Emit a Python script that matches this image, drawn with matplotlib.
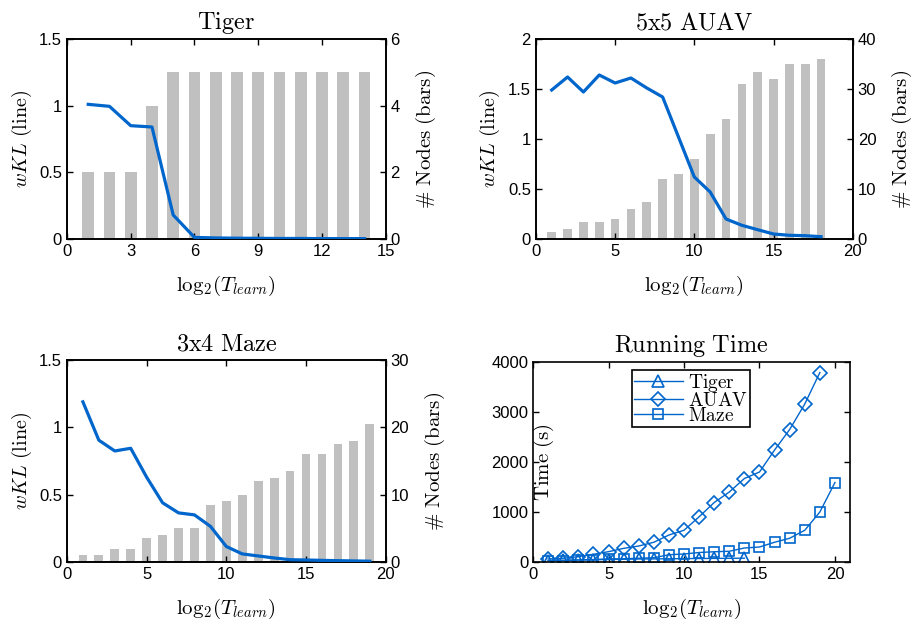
import numpy as np
import matplotlib
matplotlib.use("Agg")
import matplotlib.pyplot as plt

plt.rcParams['font.family'] = ['Liberation Sans', 'DejaVu Sans']
plt.rcParams['mathtext.fontset'] = 'cm'

# wKL (line) and # nodes (bars) per log2(T_learn)
tiger_x = [1, 2, 3, 4, 5, 6, 7, 8, 9, 10, 11, 12, 13, 14]
tiger_kl = [1.01, 0.995, 0.85, 0.84, 0.18, 0.012, 0.008, 0.006, 0.005, 0.004, 0.004, 0.003, 0.003, 0.003]
tiger_nodes = [2, 2, 2, 4, 5, 5, 5, 5, 5, 5, 5, 5, 5, 5]

auav_x = list(range(1, 19))
auav_kl = [1.49, 1.62, 1.47, 1.64, 1.56, 1.61, 1.51, 1.42, 1.02, 0.62, 0.47, 0.2,
           0.137, 0.093, 0.05, 0.037, 0.033, 0.023]
auav_nodes = [1.5, 2, 3.5, 3.5, 4, 6, 7.5, 12, 13, 16, 21, 24, 31, 33.5, 32, 35, 35, 36]

maze_x = list(range(1, 20))
maze_kl = [1.19, 0.905, 0.825, 0.845, 0.63, 0.44, 0.365, 0.35, 0.265, 0.115, 0.06, 0.045,
           0.03, 0.017, 0.015, 0.012, 0.01, 0.008, 0.006]
maze_nodes = [1, 1, 2, 2, 3.5, 4, 5, 5, 8.5, 9, 10, 12, 12.5, 13.5, 16, 16, 17.5, 18, 20.5]

# running time (s)
rt_tiger_x = list(range(1, 15))
rt_tiger = [30, 35, 40, 45, 50, 55, 60, 62, 65, 68, 70, 72, 74, 76]
rt_auav_x = list(range(1, 20))
rt_auav = [60, 75, 107, 155, 207, 273, 320, 395, 540, 635, 905, 1190, 1400, 1670, 1800,
           2240, 2650, 3160, 3790]
rt_maze_x = list(range(1, 21))
rt_maze = [27, 30, 40, 50, 60, 65, 75, 85, 145, 160, 190, 205, 215, 280, 300, 395, 475,
           635, 1000, 1590]

blue = '#0066CC'
grey = '#C0C0C0'
tick_fs = 12
lab_fs = 15
title_fs = 17.5
xlab = r'$\mathrm{log}_2(T_{learn})$'

fig = plt.figure(figsize=(9.16, 6.25), dpi=100)


def style(ax):
    ax.tick_params(direction='in', labelsize=tick_fs, length=4, width=1)
    for s in ax.spines.values():
        s.set_linewidth(1.2)


def kl_panel(rect, title, x, kl, nodes, xlim, xticks, ylim, yticks, ylabels, rlim, rticks):
    ax = fig.add_axes(rect)
    ax2 = ax.twinx()
    ax2.bar(x, nodes, width=0.55, color=grey, zorder=1)
    ax.plot(x, kl, color=blue, lw=2.3, zorder=3)
    ax.set_zorder(ax2.get_zorder() + 1)
    ax.patch.set_visible(False)
    ax.set_xlim(*xlim)
    ax.set_xticks(xticks)
    ax.set_ylim(*ylim)
    ax.set_yticks(yticks, ylabels)
    ax2.set_ylim(*rlim)
    ax2.set_yticks(rticks)
    ax.tick_params(top=True)
    style(ax)
    style(ax2)
    ax.set_title(r'$\mathrm{' + title + '}$', fontsize=title_fs, pad=7)
    ax.set_xlabel(xlab, fontsize=lab_fs, labelpad=11)
    ax.set_ylabel(r'$wKL\ \mathrm{(line)}$', fontsize=14.5, labelpad=4)
    ax2.set_ylabel(r'$\#\ \mathrm{Nodes\ (bars)}$', fontsize=lab_fs, labelpad=10)
    return ax


kl_panel([0.0731, 0.6176, 0.348, 0.32], 'Tiger', tiger_x, tiger_kl, tiger_nodes,
         (0, 15), [0, 3, 6, 9, 12, 15], (0, 1.5), [0, 0.5, 1, 1.5], ['0', '0.5', '1', '1.5'],
         (0, 6), [0, 2, 4, 6])
kl_panel([0.585, 0.6176, 0.346, 0.32], '5x5\\ AUAV', auav_x, auav_kl, auav_nodes,
         (0, 20), [0, 5, 10, 15, 20], (0, 2), [0, 0.5, 1, 1.5, 2], ['0', '0.5', '1', '1.5', '2'],
         (0, 40), [0, 10, 20, 30, 40])
kl_panel([0.0731, 0.1008, 0.348, 0.323], '3x4\\ Maze', maze_x, maze_kl, maze_nodes,
         (0, 20), [0, 5, 10, 15, 20], (0, 1.5), [0, 0.5, 1, 1.5], ['0', '0.5', '1', '1.5'],
         (0, 30), [0, 10, 20, 30])

# running time panel
ax = fig.add_axes([0.582, 0.1008, 0.346, 0.32])
ax.plot(rt_tiger_x, rt_tiger, color=blue, lw=1, marker='^', ms=8, mfc='none', mew=1.2,
        label=r'$\mathrm{Tiger}$')
ax.plot(rt_auav_x, rt_auav, color=blue, lw=1, marker='D', ms=7, mfc='none', mew=1.2,
        label=r'$\mathrm{AUAV}$')
ax.plot(rt_maze_x, rt_maze, color=blue, lw=1, marker='s', ms=7, mfc='none', mew=1.2,
        label=r'$\mathrm{Maze}$')
ax.set_xlim(0, 21)
ax.set_xticks([0, 5, 10, 15, 20])
ax.set_ylim(0, 4000)
ax.set_yticks([0, 1000, 2000, 3000, 4000])
ax.tick_params(top=True, right=True)
style(ax)
ax.set_title(r'$\mathrm{Running\ Time}$', fontsize=title_fs, pad=7)
ax.set_xlabel(xlab, fontsize=lab_fs, labelpad=11)
ax.set_ylabel(r'$\mathrm{Time\ (s)}$', fontsize=lab_fs)
ax.yaxis.set_label_coords(0.072, 0.5)
leg = ax.legend(loc='upper left', bbox_to_anchor=(0.312, 0.96), borderaxespad=0,
                fontsize=14, fancybox=False, edgecolor='black', framealpha=1,
                handlelength=2.5, labelspacing=-0.12, borderpad=0.1, handletextpad=0.3)
leg.get_frame().set_linewidth(1.2)

fig.savefig('out.png', dpi=100)
